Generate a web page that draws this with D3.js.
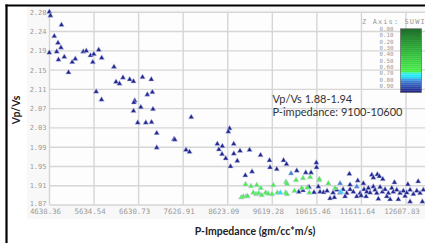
<!DOCTYPE html>
<meta charset="utf-8">
<style>
body { margin: 0; background: #fff; }
svg { display: block; }
.mono { font-family: "DejaVu Sans Mono", monospace; fill: #9a9a9a; }
</style>
<body>
<script src="https://d3js.org/d3.v7.min.js"></script>
<script>
var width = 425, height = 243;

// tick labels as printed on the chart
var xTickLabels = ["4638.36", "5634.54", "6630.73", "7626.91", "8623.09", "9619.28", "10615.46", "11611.64", "12607.83"];
var yTickLabels = ["1.87", "1.91", "1.95", "1.99", "2.03", "2.07", "2.11", "2.15", "2.19", "2.24", "2.28"];
var legendLabels = ["0.00", "0.10", "0.20", "0.30", "0.40", "0.50", "0.60", "0.70", "0.80", "0.90"];

// SUWI colour ramp
var zStops  = [0, 0.35, 0.68, 0.71, 0.78, 0.80, 0.86, 1.0];
var zColors = ["#1e6b2a", "#2cb437", "#48f048", "#2ef2ff", "#1ad6f2", "#3c9ae2", "#3466c4", "#1c1c84"];

// [P-impedance, Vp/Vs]
var darkBluePts = [
  [4634,2.281],[4660,2.273],[4906,2.253],[4745,2.229],[4828,2.215],[4895,2.205],[4634,2.194],[4799,2.196],
  [4839,2.179],[4969,2.185],[5063,2.152],[5146,2.174],[5215,2.181],[5394,2.196],[5461,2.198],[5555,2.188],
  [5629,2.191],[5606,2.174],[5738,2.200],[5805,2.183],[6080,2.164],[6125,2.132],[6203,2.128],[6281,2.141],
  [6431,2.137],[6516,2.133],[5682,2.111],[5801,2.094],[6543,2.092],[6525,2.088],[6516,2.070],[6718,2.142],
  [6914,2.137],[6937,2.110],[6825,2.105],[6680,2.078],[6952,2.074],[6610,2.045],[6791,2.045],[6919,2.046],
  [7035,2.023],[7422,2.010],[7439,2.009],[7035,1.992],[7807,2.057],[7690,1.987],[7768,1.983],[8663,2.033],
  [8636,2.026],[8390,2.000],[8757,2.000],[8502,1.995],[8424,1.988],[8898,1.985],[9110,1.987],[8495,1.978],
  [8759,1.979],[8578,1.969],[9356,1.976],[8837,1.964],[9557,1.965],[9870,1.965],[9937,1.957],[8685,1.952],
  [9568,1.950],[9718,1.946],[9016,1.933],[9166,1.941],[10166,1.943],[10367,1.939],[10485,1.939],[10604,1.960],
  [10608,1.950],[11342,1.936],[11843,1.934],[11968,1.935],[12013,1.931],[11879,1.928],[12089,1.925],
  [10210,1.898],[10306,1.901],[10440,1.908],[10552,1.897],[10648,1.909],[10686,1.898],[10765,1.897],[10843,1.900],
  [10910,1.884],[10977,1.896],[11006,1.886],[11060,1.902],[11134,1.896],[11201,1.903],[11283,1.895],[11357,1.903],
  [11431,1.898],[11507,1.888],[11529,1.922],[11581,1.895],[11603,1.890],[11655,1.916],[11670,1.903],[11731,1.898],
  [11766,1.906],[11804,1.896],[11878,1.909],[11916,1.902],[11954,1.895],[11990,1.883],[12028,1.908],[12079,1.898],
  [12140,1.903],[12214,1.895],[12252,1.882],[12290,1.906],[12325,1.898],[12401,1.902],[12437,1.882],[12475,1.895],
  [12549,1.900],[12587,1.889],[12625,1.896],[12699,1.877],[12699,1.902],[12773,1.893],[12849,1.900],[12922,1.895],
  [12974,1.877],[12996,1.902],[11715,1.888],[12178,1.888],[11245,1.888],[11357,1.913],[12350,1.918],[12650,1.914],
  [12880,1.920]
];
var greenPts = [
  [9021,1.914],[9144,1.910],[9271,1.912],[9361,1.906],[9642,1.912],[9926,1.919],[9948,1.915],[10150,1.923],
  [10306,1.927],[10463,1.929],[10664,1.923],[8927,1.886],[8972,1.888],[9032,1.888],[9066,1.889],[9195,1.896],
  [9256,1.893],[9316,1.895],[9383,1.891],[9472,1.896],[9524,1.894],[9613,1.893],[9732,1.896],[9920,1.896],
  [9949,1.893],[10116,1.900],[10277,1.906],[10403,1.907],[10447,1.896],[10671,1.925],[10872,1.916],[11022,1.906]
];
var cyanPts = [[9799,1.896],[11156,1.898]];
var lightBluePts = [[10038,1.937],[11134,1.916],[11507,1.909]];

var seriesPts = [darkBluePts, greenPts, cyanPts, lightBluePts];
var seriesZ = [0.98, 0.67, 0.76, 0.83];

var svg = d3.select("body").append("svg")
    .attr("width", width)
    .attr("height", height);

var x = d3.scaleLinear().domain([4638.36, 12607.83]).range([49.5, 406]);
var y = d3.scaleLinear().domain([1.87, 2.28]).range([205, 12.3]);
var zColor = d3.scaleLinear().domain(zStops).range(zColors);

// panel
svg.append("rect")
    .attr("x", 27).attr("y", 7)
    .attr("width", width - 27).attr("height", 212)
    .attr("fill", "#f8f8f8");
svg.append("rect")
    .attr("x", x.range()[0]).attr("y", y.range()[1])
    .attr("width", width - x.range()[0]).attr("height", y.range()[0] - y.range()[1])
    .attr("fill", "#fdfdfd");

var xStep = (x.domain()[1] - x.domain()[0]) / (xTickLabels.length - 1);
var yStep = (y.domain()[1] - y.domain()[0]) / (yTickLabels.length - 1);

// grid
svg.selectAll(".vgrid")
  .data(xTickLabels)
  .enter().append("line")
    .attr("x1", function(d, i) { return x(x.domain()[0] + i * xStep); })
    .attr("x2", function(d, i) { return x(x.domain()[0] + i * xStep); })
    .attr("y1", y.range()[1])
    .attr("y2", y.range()[0])
    .attr("stroke", "#d6d6d6")
    .attr("stroke-width", 1.4);

svg.selectAll(".hgrid")
  .data(yTickLabels)
  .enter().append("line")
    .attr("x1", x.range()[0])
    .attr("x2", width)
    .attr("y1", function(d, i) { return y(y.domain()[0] + i * yStep); })
    .attr("y2", function(d, i) { return y(y.domain()[0] + i * yStep); })
    .attr("stroke", "#d6d6d6")
    .attr("stroke-width", 1.4);

// tick labels
svg.selectAll(".ylab")
  .data(yTickLabels)
  .enter().append("text")
    .attr("class", "mono")
    .attr("x", 46.5)
    .attr("y", function(d, i) { return y(y.domain()[0] + i * yStep) - (i === 0 ? 1.5 : 0); })
    .attr("dy", "0.35em")
    .attr("text-anchor", "end")
    .style("font-size", "7px")
    .text(function(d) { return d; });

svg.selectAll(".xlab")
  .data(xTickLabels)
  .enter().append("text")
    .attr("class", "mono")
    .attr("x", function(d, i) { return x(x.domain()[0] + i * xStep) - 4; })
    .attr("y", 213.5)
    .attr("text-anchor", "middle")
    .style("font-size", "7.4px")
    .text(function(d) { return d; });

// points
var tri = d3.symbol().type(d3.symbolTriangle).size(13);
seriesPts.forEach(function(pts, k) {
  svg.append("g").selectAll("path")
    .data(pts)
    .enter().append("path")
      .attr("transform", function(d) { return "translate(" + x(d[0]) + "," + y(d[1]) + ")"; })
      .attr("d", tri)
      .attr("fill", zColor(seriesZ[k]))
      .attr("stroke", "#c9c9ec")
      .attr("stroke-width", 0.5);
});

// legend
svg.append("text")
    .attr("class", "mono")
    .attr("x", 362)
    .attr("y", 24)
    .style("font-size", "7px")
    .style("letter-spacing", "1.1px")
    .text("Z Axis: SUWI");

var zY = d3.scaleLinear().domain([0, 1]).range([28.8, 92.3]);
var bands = d3.range(0, 1, 1 / 32);
svg.append("g").selectAll("rect")
  .data(bands)
  .enter().append("rect")
    .attr("x", 400.5)
    .attr("y", function(d) { return zY(d); })
    .attr("width", 21)
    .attr("height", zY(1 / 32) - zY(0) + 0.2)
    .attr("fill", function(d) { return zColor(d + 1 / 64); });
svg.append("rect")
    .attr("x", 400.5).attr("y", zY(0))
    .attr("width", 21).attr("height", zY(1) - zY(0))
    .attr("fill", "none")
    .attr("stroke", "#666")
    .attr("stroke-width", 0.7);

svg.selectAll(".leglab")
  .data(legendLabels)
  .enter().append("text")
    .attr("class", "mono")
    .attr("x", 393.5)
    .attr("y", function(d) { return zY(+d); })
    .attr("dy", "0.35em")
    .attr("text-anchor", "end")
    .style("font-size", "5.8px")
    .text(function(d) { return d; });

// annotation
var note = svg.append("text")
    .attr("x", 272.5)
    .attr("y", 103)
    .style("font-family", "Lato, sans-serif")
    .style("font-size", "11px")
    .attr("fill", "#333");
note.append("tspan").attr("x", 272.5).text("Vp/Vs 1.88-1.94");
note.append("tspan").attr("x", 272.5).attr("dy", 13).text("P-impedance: 9100-10600");

// axis titles
svg.append("text")
    .attr("transform", "translate(19.5,110) rotate(-90)")
    .attr("text-anchor", "middle")
    .style("font-family", "Lato, sans-serif")
    .style("font-weight", "bold")
    .style("font-size", "10.5px")
    .attr("fill", "#222")
    .text("Vp/Vs");

svg.append("text")
    .attr("x", 255)
    .attr("y", 235)
    .attr("text-anchor", "middle")
    .style("font-family", "Lato, sans-serif")
    .style("font-weight", "bold")
    .style("font-size", "10.5px")
    .attr("fill", "#222")
    .text("P-Impedance (gm/cc*m/s)");

// outer black frame
svg.append("line")
    .attr("x1", 6.5).attr("x2", 6.5)
    .attr("y1", 4.5).attr("y2", height)
    .attr("stroke", "#000").attr("stroke-width", 2.2);
svg.append("line")
    .attr("x1", 5.5).attr("x2", width)
    .attr("y1", 5.5).attr("y2", 5.5)
    .attr("stroke", "#000").attr("stroke-width", 2.2);
</script>
</body>
